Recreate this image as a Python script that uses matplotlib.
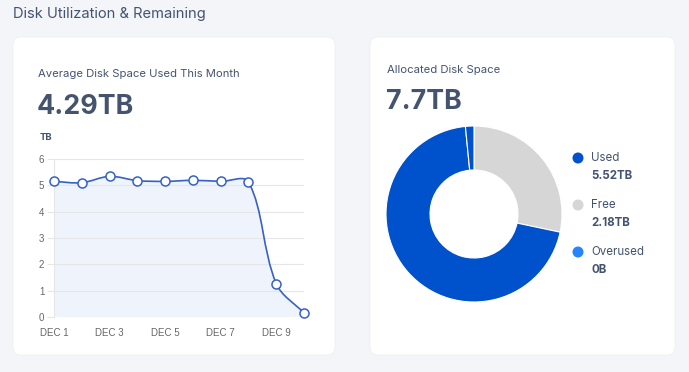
import numpy as np
import matplotlib
matplotlib.use("Agg")
import matplotlib.pyplot as plt
from matplotlib.patches import FancyBboxPatch, PathPatch, Circle
from matplotlib.path import Path

# data
days = [1, 2, 3, 4, 5, 6, 7, 8, 9, 10]
used_tb = [5.15, 5.10, 5.34, 5.18, 5.15, 5.19, 5.15, 5.13, 1.27, 0.15]
xtick_days = [1, 3, 5, 7, 9]
xtick_labels = ["DEC 1", "DEC 3", "DEC 5", "DEC 7", "DEC 9"]

alloc_labels = ["Used", "Free", "Overused"]
alloc_values = [5.52, 2.18, 0.0]
alloc_text = ["5.52TB", "2.18TB", "0B"]
used_tail = 0.12  # small separated slice at the top of the used segment

W, H = 689, 372
DPI = 100
BG = "#f4f5f9"
TXT = "#44546f"
LINE = "#3661c7"
FILL = "#eff3fc"
C_USED = "#0052cc"
C_FREE = "#d6d6d6"
C_OVER = "#2684ff"

plt.rcParams["font.family"] = ["Inter", "DejaVu Sans"]

fig = plt.figure(figsize=(W / DPI, H / DPI), dpi=DPI, facecolor=BG)
bg = fig.add_axes([0, 0, 1, 1])
bg.set_xlim(0, W)
bg.set_ylim(H, 0)
bg.axis("off")

# cards
for x0, x1 in [(13, 335), (370, 675)]:
    bg.add_patch(FancyBboxPatch((x0, 37), x1 - x0, 318,
                                boxstyle="round,pad=0,rounding_size=8",
                                fc="white", ec="#eef0f4", lw=0.6))

bg.text(13, 14, "Disk Utilization & Remaining", fontsize=10.6, color=TXT, va="center")
bg.text(38, 74, "Average Disk Space Used This Month", fontsize=8.1, color=TXT, va="center")
bg.text(37, 107, "4.29TB", fontsize=19.3, color=TXT, va="center", fontweight="bold")
bg.text(40, 137, "TB", fontsize=6.8, color=TXT, va="center", fontweight="bold")

bg.text(387, 70, "Allocated Disk Space", fontsize=8.1, color=TXT, va="center")
bg.text(386, 102, "7.7TB", fontsize=19.3, color=TXT, va="center", fontweight="bold")

# legend
colors = [C_USED, C_FREE, C_OVER]
for i, (lab, txt) in enumerate(zip(alloc_labels, alloc_text)):
    y = 158 + i * 47
    bg.add_patch(Circle((578, y), 5.5, fc=colors[i], ec="none"))
    bg.text(591, y, lab, fontsize=8.3, color=TXT, va="center")
    bg.text(591, y + 18, txt, fontsize=8.3, color=TXT, va="center", fontweight="bold")

# line chart
ax = fig.add_axes([54 / W, (H - 317) / H, 250 / W, 158 / H])
ax.set_xlim(1, 10)
ax.set_ylim(0, 6)
sx, sy = 250 / 9, 158 / 6

# chart.js style bezier
tension = 0.35
px = np.array(days, float) * sx
py = np.array(used_tb) * sy
n = len(px)
cp_prev = np.zeros((n, 2))
cp_next = np.zeros((n, 2))
for i in range(n):
    p0 = (px[max(i - 1, 0)], py[max(i - 1, 0)])
    p1 = (px[i], py[i])
    p2 = (px[min(i + 1, n - 1)], py[min(i + 1, n - 1)])
    d01 = np.hypot(p1[0] - p0[0], p1[1] - p0[1])
    d12 = np.hypot(p2[0] - p1[0], p2[1] - p1[1])
    tot = d01 + d12 if d01 + d12 > 0 else 1
    fa = tension * d01 / tot
    fb = tension * d12 / tot
    cp_prev[i] = (p1[0] - fa * (p2[0] - p0[0]), p1[1] - fa * (p2[1] - p0[1]))
    cp_next[i] = (p1[0] + fb * (p2[0] - p0[0]), p1[1] + fb * (p2[1] - p0[1]))
cp_prev[:, 1] = np.clip(cp_prev[:, 1], 0, 6 * sy)
cp_next[:, 1] = np.clip(cp_next[:, 1], 0, 6 * sy)

verts = [(px[0] / sx, py[0] / sy)]
codes = [Path.MOVETO]
for i in range(n - 1):
    verts += [(cp_next[i][0] / sx, cp_next[i][1] / sy),
              (cp_prev[i + 1][0] / sx, cp_prev[i + 1][1] / sy),
              (px[i + 1] / sx, py[i + 1] / sy)]
    codes += [Path.CURVE4] * 3

fill_verts = verts + [(days[-1], 0), (days[0], 0), verts[0]]
fill_codes = codes + [Path.LINETO, Path.LINETO, Path.CLOSEPOLY]
ax.add_patch(PathPatch(Path(fill_verts, fill_codes), fc=FILL, ec="none", zorder=1))
ax.add_patch(PathPatch(Path(verts, codes), fc="none", ec=LINE, lw=1.2, zorder=3))
ax.plot(days, used_tb, ls="none", marker="o", ms=6.5, mfc="white", mec=LINE,
        mew=1.1, zorder=4, clip_on=False)

ax.set_yticks(range(0, 7))
ax.set_xticks(xtick_days)
ax.set_xticklabels(xtick_labels)
ax.grid(axis="y", color="#e6e6e6", lw=0.8, zorder=0)
for s in ["top", "right", "bottom"]:
    ax.spines[s].set_visible(False)
ax.spines["left"].set_color("#e6e6e6")
ax.tick_params(axis="y", length=5, width=0.8, color="#e6e6e6", labelsize=7,
               labelcolor="#666666", pad=2)
ax.tick_params(axis="x", length=0, labelsize=7, labelcolor="#666666", pad=8)
for lab in ax.get_xticklabels() + ax.get_yticklabels():
    lab.set_fontfamily(["Liberation Sans", "DejaVu Sans"])
ax.set_facecolor("none")

# donut
R = 88
dax = fig.add_axes([(474 - R) / W, (H - 214 - R) / H, 2 * R / W, 2 * R / H])
wedges = [alloc_values[1], alloc_values[0] - used_tail, used_tail]
dax.pie(wedges, colors=[C_FREE, C_USED, C_USED], startangle=90, counterclock=False,
        radius=1, wedgeprops=dict(width=0.5, edgecolor="white", linewidth=0.8))
dax.set_xlim(-1, 1)
dax.set_ylim(-1, 1)
dax.set_aspect("equal")

fig.savefig("out.png", dpi=DPI, facecolor=BG)
